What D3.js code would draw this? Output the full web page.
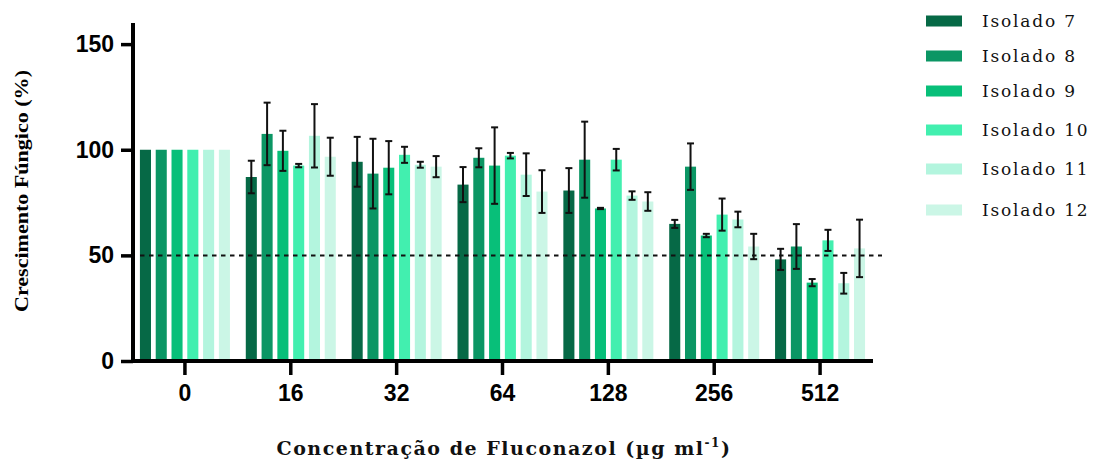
<!DOCTYPE html>
<html>
<head>
<meta charset="utf-8">
<script src="https://cdn.jsdelivr.net/npm/d3@7"></script>
<style>
  html, body { margin: 0; padding: 0; background: #fff; }
  svg { display: block; }
</style>
</head>
<body>
<svg id="chart" width="1094" height="461"></svg>
<script>
// ---- Data ----
const concentrations = ["0", "16", "32", "64", "128", "256", "512"];
const seriesNames = ["Isolado 7", "Isolado 8", "Isolado 9", "Isolado 10", "Isolado 11", "Isolado 12"];
const seriesColors = ["#066946", "#0B9664", "#08BF79", "#42EFAF", "#B3F5DE", "#CBF6E6"];

const iso7   = [100, 87.1, 94.3, 83.5, 80.7, 64.9, 48.1];
const iso7sd = [0, 7.7, 11.8, 8.3, 10.6, 1.9, 5.0];
const iso8   = [100, 107.5, 88.7, 96.2, 95.3, 92.0, 54.2];
const iso8sd = [0, 14.8, 16.5, 4.5, 18.0, 11.0, 10.6];
const iso9   = [100, 99.5, 91.5, 92.5, 72.2, 59.4, 37.1];
const iso9sd = [0, 9.5, 12.6, 18.1, 0.3, 0.8, 1.7];
const iso10   = [100, 92.5, 97.6, 97.2, 95.3, 69.3, 57.1];
const iso10sd = [0, 0.8, 3.8, 1.3, 5.1, 7.6, 5.0];
const iso11   = [100, 106.6, 92.9, 88.2, 78.3, 67.0, 36.8];
const iso11sd = [0, 15.0, 1.4, 10.1, 2.0, 3.7, 4.9];
const iso12   = [100, 96.7, 92.0, 80.2, 75.5, 54.2, 53.3];
const iso12sd = [0, 9.0, 5.0, 10.1, 4.4, 6.0, 13.6];

const yTicks = [0, 50, 100, 150];
const referenceLine = 50;
const yTitle = "Crescimento Fúngico (%)";
const xTitleMain = "Concentração de Fluconazol (µg ml";
const xTitleSup = "-1";
const xTitleEnd = ")";

const means = [iso7, iso8, iso9, iso10, iso11, iso12];
const sds = [iso7sd, iso8sd, iso9sd, iso10sd, iso11sd, iso12sd];

const records = [];
concentrations.forEach((c, ci) => {
  seriesNames.forEach((s, si) => {
    records.push({ conc: c, series: s, color: seriesColors[si], mean: means[si][ci], sd: sds[si][ci] });
  });
});

// ---- Layout ----
const svg = d3.select("#chart");
const x0 = d3.scaleBand().domain(concentrations).range([132, 873]).paddingInner(0).paddingOuter(0);
const x1 = d3.scaleBand().domain(seriesNames).range([-45, 45]).paddingInner(0.3).paddingOuter(0);
const y = d3.scaleLinear().domain([0, 160]).range([361, 23]);

const cx = c => x0(c) + x0.bandwidth() / 2;

// Bars
svg.append("g").selectAll("rect").data(records).join("rect")
  .attr("x", d => cx(d.conc) + x1(d.series))
  .attr("width", x1.bandwidth())
  .attr("y", d => y(d.mean))
  .attr("height", d => y(0) - y(d.mean))
  .attr("fill", d => d.color);

// Error bars
const eb = svg.append("g").attr("stroke", "#111").attr("stroke-width", 2).attr("fill", "none");
records.filter(d => d.sd > 0).forEach(d => {
  const xc = cx(d.conc) + x1(d.series) + x1.bandwidth() / 2;
  const hi = y(d.mean + d.sd), lo = y(d.mean - d.sd);
  eb.append("line").attr("x1", xc).attr("x2", xc).attr("y1", hi).attr("y2", lo);
  eb.append("line").attr("x1", xc - 3.5).attr("x2", xc + 3.5).attr("y1", hi).attr("y2", hi);
  eb.append("line").attr("x1", xc - 3.5).attr("x2", xc + 3.5).attr("y1", lo).attr("y2", lo);
});

// Dashed reference line
svg.append("line")
  .attr("x1", 140).attr("x2", 882)
  .attr("y1", y(referenceLine)).attr("y2", y(referenceLine))
  .attr("stroke", "#111").attr("stroke-width", 2)
  .attr("stroke-dasharray", "4.5,4.5");

// Y axis
const yAxis = d3.axisLeft(y).tickValues(yTicks).tickSize(12).tickPadding(7).tickSizeOuter(0);
const gy = svg.append("g").attr("transform", "translate(133,0)").call(yAxis);
gy.select(".domain").attr("stroke", "#000").attr("stroke-width", 4).attr("d", `M0,${y(160)}V${y(0) + 2}`);
gy.selectAll(".tick line").attr("stroke", "#000").attr("stroke-width", 3.5);
gy.selectAll(".tick text")
  .attr("font-family", "'Liberation Sans', Arial, sans-serif")
  .attr("font-weight", "bold").attr("font-size", 23).attr("fill", "#000");

// X axis
const xAxis = d3.axisBottom(x0).tickSize(14).tickPadding(10).tickSizeOuter(0);
const gx = svg.append("g").attr("transform", `translate(0,${y(0)})`).call(xAxis);
gx.select(".domain").attr("stroke", "#000").attr("stroke-width", 4).attr("d", "M131,0H873");
gx.selectAll(".tick line").attr("stroke", "#000").attr("stroke-width", 3.5);
gx.selectAll(".tick text")
  .attr("font-family", "'Liberation Sans', Arial, sans-serif")
  .attr("font-weight", "bold").attr("font-size", 23).attr("fill", "#000");

// Y title
svg.append("text")
  .attr("transform", "translate(28,191) rotate(-90)")
  .attr("text-anchor", "middle")
  .attr("font-family", "'Liberation Serif', 'Times New Roman', serif")
  .attr("font-weight", "bold").attr("font-size", 18)
  .attr("fill", "#000")
  .attr("textLength", 242).attr("lengthAdjust", "spacingAndGlyphs")
  .text(yTitle);

// X title
const xt = svg.append("text")
  .attr("x", 504).attr("y", 455)
  .attr("text-anchor", "middle")
  .attr("font-family", "'DejaVu Serif', Georgia, serif")
  .attr("font-weight", "bold").attr("font-size", 19)
  .attr("fill", "#111");
xt.append("tspan").text(xTitleMain);
xt.append("tspan").attr("font-size", 12).attr("dy", -8).text(xTitleSup);
xt.append("tspan").attr("dy", 8).text(xTitleEnd);
// adjust letter spacing to match the reference width
const targetW = 455;
const natW = xt.node().getComputedTextLength();
const nChars = (xTitleMain + xTitleSup + xTitleEnd).length;
xt.attr("letter-spacing", (targetW - natW) / nChars);

// Legend
const legendRowY = [21, 56, 91, 130, 169, 210];
const lg = svg.append("g");
seriesNames.forEach((s, i) => {
  const row = lg.append("g").attr("transform", `translate(926,${legendRowY[i]})`);
  row.append("rect").attr("x", 0).attr("y", -5.5).attr("width", 36).attr("height", 11).attr("fill", seriesColors[i]);
  row.append("text").attr("x", 56).attr("y", 6)
    .attr("font-family", "'DejaVu Serif', Georgia, serif")
    .attr("font-size", 17).attr("letter-spacing", 1.8).attr("fill", "#111")
    .text(s);
});
</script>
</body>
</html>
